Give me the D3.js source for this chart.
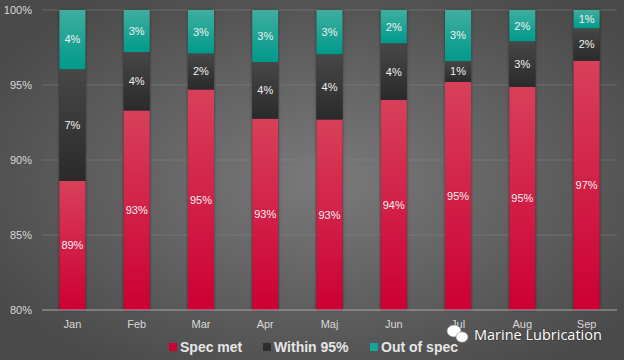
<!DOCTYPE html>
<html>
<head>
<meta charset="utf-8">
<script src="https://cdn.jsdelivr.net/npm/d3@7"></script>
<style>
  body { margin: 0; background: #555; }
  svg { display: block; font-family: "Liberation Sans", Arial, sans-serif; }
</style>
</head>
<body>
<div class="chart"></div>
<script>
// data (percent)
var months = ["Jan", "Feb", "Mar", "Apr", "Maj", "Jun", "Jul", "Aug", "Sep"];
var specMet = [88.6, 93.3, 94.7, 92.75, 92.7, 94.0, 95.2, 94.87, 96.62];
var within95 = [7.45, 3.9, 2.4, 3.78, 4.35, 3.78, 1.4, 3.04, 2.16];
var outOfSpec = [3.95, 2.8, 2.9, 3.47, 2.95, 2.22, 3.4, 2.09, 1.22];
var yTicks = [80, 85, 90, 95, 100];
var seriesNames = ["Spec met", "Within 95%", "Out of spec"];

var svgWidth = 624;
var svgHeight = 360;
var margin = { top: 10, right: 7, bottom: 50, left: 42 };

var svg = d3.select(".chart")
    .append("svg")
    .attr("width", svgWidth)
    .attr("height", svgHeight);

var defs = svg.append("defs");

var bg = defs.append("radialGradient")
    .attr("id", "bg")
    .attr("cx", "52%").attr("cy", "50%").attr("r", "62%");
bg.append("stop").attr("offset", "0%").attr("stop-color", "#7a7a7a");
bg.append("stop").attr("offset", "100%").attr("stop-color", "#4a4a4a");

function vgrad(id, top, bottom) {
    var g = defs.append("linearGradient")
        .attr("id", id)
        .attr("x1", 0).attr("y1", 0).attr("x2", 0).attr("y2", 1);
    g.append("stop").attr("offset", "0%").attr("stop-color", top);
    g.append("stop").attr("offset", "100%").attr("stop-color", bottom);
}
vgrad("g0", "#d8405a", "#cc0033");
vgrad("g1", "#474747", "#2a2a2a");
vgrad("g2", "#3fae9f", "#009a8b");

var shadow = defs.append("filter").attr("id", "shadow")
    .attr("x", "-30%").attr("y", "-5%").attr("width", "160%").attr("height", "110%");
shadow.append("feDropShadow")
    .attr("dx", 0).attr("dy", 0).attr("stdDeviation", 1.5)
    .attr("flood-color", "#000").attr("flood-opacity", 0.45);

svg.append("rect")
    .attr("width", svgWidth).attr("height", svgHeight)
    .attr("fill", "url(#bg)");

var x = d3.scaleBand()
    .domain(months)
    .range([margin.left, svgWidth - margin.right])
    .paddingInner(0.594)
    .paddingOuter(0.27);

var y = d3.scaleLinear()
    .domain([80, 100])
    .range([svgHeight - margin.bottom, margin.top]);

// grid lines
svg.append("g")
    .selectAll("line")
    .data(yTicks.filter(function (d) { return d > 80; }))
    .enter()
    .append("line")
    .attr("x1", margin.left).attr("x2", svgWidth - margin.right)
    .attr("y1", function (d) { return y(d); })
    .attr("y2", function (d) { return y(d); })
    .attr("stroke", "#8a8a8a")
    .attr("stroke-opacity", 0.45)
    .attr("stroke-width", 1);

var table = months.map(function (m, i) {
    return { month: m, s0: specMet[i], s1: within95[i], s2: outOfSpec[i] };
});
var stack = d3.stack().keys(["s0", "s1", "s2"]);
var layers = stack(table);

// shadow bar per month
svg.append("g")
    .selectAll("rect")
    .data(table)
    .enter()
    .append("rect")
    .attr("x", function (d) { return x(d.month); })
    .attr("width", x.bandwidth())
    .attr("y", y(100))
    .attr("height", y(80) - y(100))
    .attr("fill", "#333")
    .attr("filter", "url(#shadow)");

var layer = svg.append("g")
    .selectAll("g")
    .data(layers)
    .enter()
    .append("g");

layer.selectAll("rect")
    .data(function (d, i) { return d.map(function (p) { return { p: p, k: i }; }); })
    .enter()
    .append("rect")
    .attr("x", function (d) { return x(d.p.data.month); })
    .attr("width", x.bandwidth())
    .attr("y", function (d) { return y(Math.min(100, d.p[1])); })
    .attr("height", function (d) { return y(Math.max(80, d.p[0])) - y(Math.min(100, d.p[1])); })
    .attr("fill", function (d) { return "url(#g" + d.k + ")"; });

layer.selectAll("text")
    .data(function (d) { return d; })
    .enter()
    .append("text")
    .attr("x", function (d) { return x(d.data.month) + x.bandwidth() / 2; })
    .attr("y", function (d) {
        return (y(Math.max(80, d[0])) + y(Math.min(100, d[1]))) / 2;
    })
    .attr("dy", "0.35em")
    .attr("text-anchor", "middle")
    .attr("font-size", "11px")
    .attr("fill", "#f0f0f0")
    .text(function (d) { return Math.round(d[1] - d[0]) + "%"; });

// baseline
svg.append("line")
    .attr("x1", margin.left).attr("x2", svgWidth - margin.right)
    .attr("y1", y(80)).attr("y2", y(80))
    .attr("stroke", "#a8a8a8")
    .attr("stroke-width", 1.2);

// y tick labels
svg.append("g")
    .selectAll("text")
    .data(yTicks)
    .enter()
    .append("text")
    .attr("x", 32)
    .attr("y", function (d) { return y(d); })
    .attr("dy", "0.35em")
    .attr("text-anchor", "end")
    .attr("font-size", "11px")
    .attr("fill", "#d8d8d8")
    .text(function (d) { return d + "%"; });

// x labels
svg.append("g")
    .selectAll("text")
    .data(months)
    .enter()
    .append("text")
    .attr("x", function (d) { return x(d) + x.bandwidth() / 2; })
    .attr("y", 324)
    .attr("dy", "0.35em")
    .attr("text-anchor", "middle")
    .attr("font-size", "11px")
    .attr("fill", "#d8d8d8")
    .text(function (d) { return d; });

// legend
var legendColors = ["#cc0033", "#2e2e2e", "#14a597"];
var legendX = [169, 263, 370];
var legend = svg.append("g")
    .selectAll("g")
    .data(seriesNames)
    .enter()
    .append("g")
    .attr("transform", function (d, i) { return "translate(" + legendX[i] + ",347)"; });
legend.append("rect")
    .attr("x", 0).attr("y", -4)
    .attr("width", 8).attr("height", 8)
    .attr("fill", function (d, i) { return legendColors[i]; });
legend.append("text")
    .attr("x", 11)
    .attr("dy", "0.36em")
    .attr("font-size", "14px")
    .attr("font-weight", "bold")
    .attr("fill", "#e6e6e6")
    .text(function (d) { return d; });

// watermark
var wm = svg.append("g").attr("transform", "translate(448,334)");
wm.append("ellipse").attr("cx", 6).attr("cy", -3).attr("rx", 7).attr("ry", 6)
    .attr("fill", "#fff").attr("stroke", "#888").attr("stroke-width", 0.6);
wm.append("ellipse").attr("cx", 14).attr("cy", 3).attr("rx", 6).attr("ry", 5.2)
    .attr("fill", "#fff").attr("stroke", "#888").attr("stroke-width", 0.6);
wm.append("text")
    .attr("x", 26).attr("y", 1)
    .attr("dy", "0.35em")
    .attr("font-family", "'Open Sans', 'Noto Sans', sans-serif")
    .attr("font-size", "14.5px")
    .attr("fill", "#fff")
    .attr("style", "paint-order:stroke")
    .attr("stroke", "rgba(0,0,0,0.25)")
    .attr("stroke-width", 1.5)
    .text("Marine Lubrication");
</script>
</body>
</html>
